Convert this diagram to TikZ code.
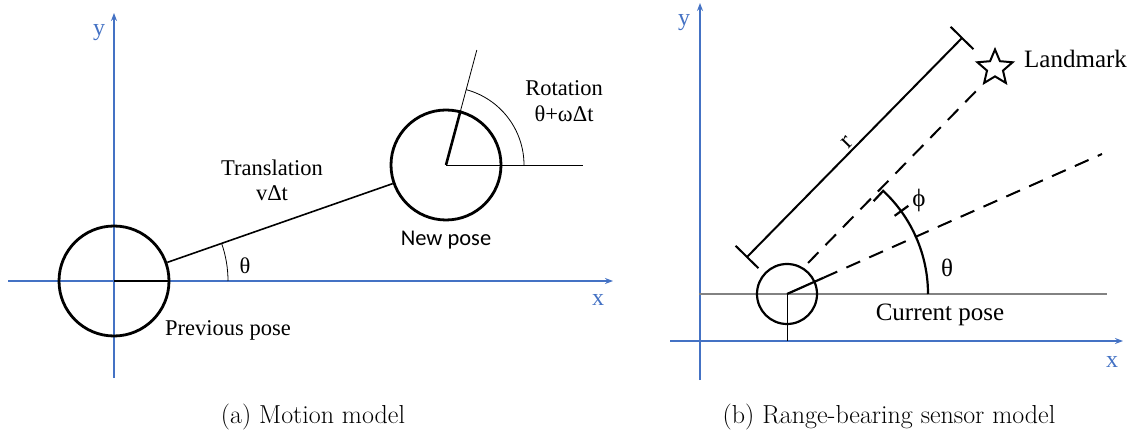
\documentclass[tikz,border=0pt]{standalone}
\usepackage{fontspec}
\usetikzlibrary{arrows.meta,shapes.geometric,calc}
\newfontfamily\tnr{Liberation Serif}
\newfontfamily\calfont{Carlito}
\definecolor{axisblue}{RGB}{68,114,196}
\definecolor{guidegray}{RGB}{130,130,130}
\begin{document}
\begin{tikzpicture}[x=1pt,y=1pt,
  axis/.style={draw=axisblue,line width=1.4,-{Stealth[length=8,width=6]}},
  axlab/.style={text=axisblue,font=\tnr\fontsize{24}{28}\selectfont,inner sep=0},
  pose/.style={circle,draw,line width=2.8,inner sep=0,minimum size=110},
  lbl/.style={font=\tnr\fontsize{22.5}{27}\selectfont,inner sep=0},
  rlbl/.style={font=\tnr\fontsize{25}{30}\selectfont,inner sep=0},
  captext/.style={font=\fontsize{26}{31}\selectfont,inner sep=0,anchor=base},
  thinline/.style={line width=0.8},
  dashline/.style={line width=2,dash pattern=on 15 off 10}]
\useasboundingbox (0,0) rectangle (1142,-435);
% ---------- (a) Motion model ----------
\coordinate (y1b) at (114,-378); \coordinate (y1t) at (114,-13);
\coordinate (x1l) at (8,-281);   \coordinate (x1r) at (613,-281);
\draw[axis] (y1b) -- (y1t);
\draw[axis] (x1l) -- (x1r);
\node[axlab] (ylab1) at (99,-33) {y};
\node[axlab] (xlab1) at (598,-300) {x};
\node[pose] (prev) at (114,-281) {};
\node[pose] (new) at (446,-165) {};
\draw[line width=2.6] (prev.center) -- (prev.east);
\draw[line width=1.6] (prev) -- (new);
\coordinate (th1) at (228,-281);
\draw[thinline] (th1) arc (0:19.3:114);
\node[lbl] (theta1) at (245,-266) {θ};
\draw[line width=2.6] (new.center) -- (new.75);
\coordinate (nh) at ($(new.center)+(75:119)$);
\coordinate (nx) at ($(new.center)+(137,0)$);
\coordinate (na) at ($(new.center)+(78,0)$);
\draw[thinline] (new.center) -- (nh);
\draw[thinline] (new.center) -- (nx);
\draw[thinline] (na) arc (0:75:78);
\node[lbl] (transl) at (272,-168) {Translation};
\node[lbl] (vdt) at (272,-193) {vΔt};
\node[lbl] (rot) at (564,-88) {Rotation};
\node[lbl] (rotv) at (564,-114) {θ+ωΔt};
\node[font=\calfont\fontsize{22.5}{27}\selectfont,inner sep=0] (newlab) at (446,-240) {New pose};
\node[lbl] (prevlab) at (228,-330) {Previous pose};
\node[captext] (capa) at (313,-423) {(a) Motion model};
% ---------- (b) Range-bearing sensor model ----------
\coordinate (y2b) at (700,-380); \coordinate (y2t) at (700,-3);
\coordinate (x2l) at (670,-341); \coordinate (x2r) at (1123,-341);
\draw[axis] (y2b) -- (y2t);
\draw[axis] (x2l) -- (x2r);
\node[axlab] (ylab2) at (684,-23) {y};
\node[axlab] (xlab2) at (1112,-362) {x};
\coordinate (gl) at (699,-294); \coordinate (gr) at (1107,-294);
\coordinate (cx) at (787,-341);
\draw[guidegray,line width=1.2] (gl) -- (gr);
\node[circle,draw,line width=2.2,inner sep=0,minimum size=60] (cur) at (787,-294) {};
\draw[line width=0.8] (cur.center) -- (cx);
\coordinate (hd) at ($(cur.center)+(24:40)$);
\coordinate (hdend) at (1102,-154);
\draw[line width=2.2] (cur.center) -- (hd);
\draw[dashline] (hd) -- (hdend);
\coordinate (ls) at (808,-263); \coordinate (le) at (982,-85);
\draw[dashline] (ls) -- (le);
\coordinate (arcs) at ($(cur.center)+(141,0)$);
\coordinate (hook) at ($(cur.center)+(47:127)$);
\coordinate (tka) at ($(cur.center)+(36:133)$);
\coordinate (tkb) at ($(cur.center)+(36:150)$);
\draw[line width=2.2] (arcs) arc (0:47:141) -- (hook);
\draw[line width=2.2] (tka) -- (tkb);
\coordinate (rb) at (747,-257); \coordinate (rt) at (962,-38);
\draw[line width=2] (rb) -- (rt);
\draw[line width=2] ($(rb)+(135.5:16)$) -- ($(rb)+(-44.5:16)$);
\draw[line width=2] ($(rt)+(135.5:16)$) -- ($(rt)+(-44.5:16)$);
\node[rlbl,rotate=45.5] (rlab) at (847,-142) {r};
\node[star,star points=5,star point ratio=2.2,draw,line width=2,minimum size=37,inner sep=0] (lm) at (995,-68) {};
\node[rlbl,anchor=west] (lmlab) at (1024,-59) {Landmark};
\node[rlbl] (phi) at (919,-200) {ϕ};
\node[rlbl] (theta2) at (947,-268) {θ};
\node[rlbl] (curlab) at (940,-315) {Current pose};
\node[captext] (capb) at (889,-423) {(b) Range-bearing sensor model};
\end{tikzpicture}
\end{document}
